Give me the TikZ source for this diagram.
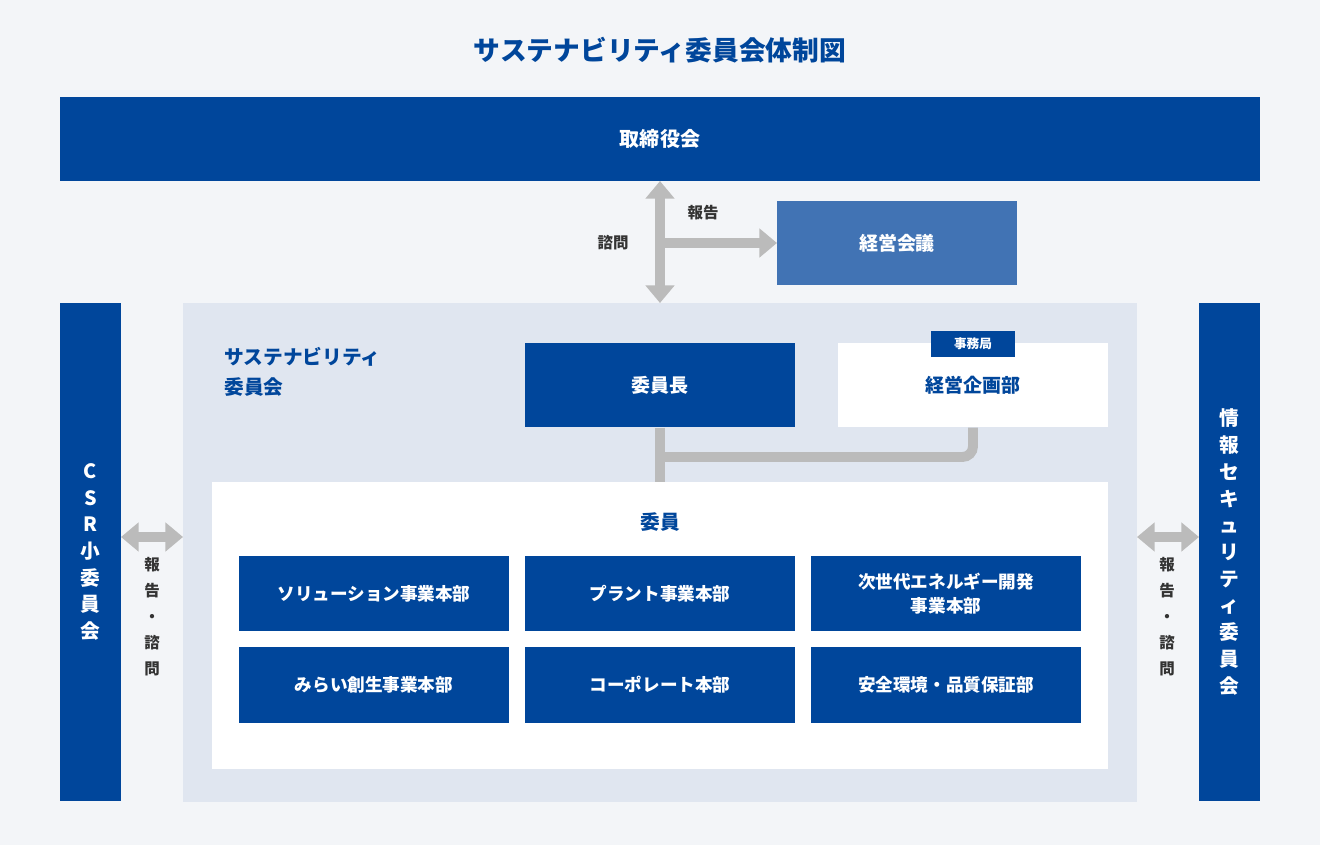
\documentclass[tikz,border=0pt]{standalone}
\usepackage{fontspec}
\setmainfont{Noto Sans CJK JP}
\usetikzlibrary{arrows.meta}
\definecolor{navy}{HTML}{00469B}
\definecolor{midblue}{HTML}{4173B4}
\definecolor{panel}{HTML}{E0E6F0}
\definecolor{bg}{HTML}{F3F5F8}
\definecolor{link}{HTML}{BBBBBB}
\definecolor{ink}{HTML}{333333}
\tikzset{
  bluebox/.style={fill=navy,text=white,font=\fontsize{5.4}{7}\selectfont\bfseries,inner sep=0pt,align=center},
  whitebox/.style={fill=white,text=navy,font=\fontsize{5.4}{7}\selectfont\bfseries,inner sep=0pt,align=center},
  lbl/.style={text=ink,font=\fontsize{4.4}{7.4}\selectfont\bfseries,align=center},
  gline/.style={draw=link,line width=2.8pt},
  garrow/.style={gline,{Triangle[length=5pt,width=8pt]}-{Triangle[length=5pt,width=8pt]}}
}
\begin{document}
\begin{tikzpicture}[x=0.01cm,y=-0.01cm]
\fill[bg] (0,0) rectangle (1320,845);
\node[text=navy,font=\fontsize{7.6}{9}\selectfont\bfseries] (title) at (660,50) {サステナビリティ委員会体制図};
% board
\fill[navy] (60,97) rectangle (1260,181);
\node[text=white,font=\fontsize{5.7}{7}\selectfont\bfseries] (board) at (660,139) {取締役会};
% management meeting
\fill[midblue] (777,201) rectangle (1017,285);
\node[text=white,font=\fontsize{5.4}{7}\selectfont\bfseries] (mgmt) at (897,243) {経営会議};
% committee panel
\fill[panel] (183,303) rectangle (1137,802);
\coordinate (bt) at (660,181);
\coordinate (pt) at (660,303);
\coordinate (mid) at (660,243);
\coordinate (ml) at (777,243);
\draw[garrow] (bt) -- (pt);
\draw[gline,-{Triangle[length=5pt,width=8pt]}] (mid) -- (ml);
\node[lbl] (ask) at (613,243) {諮問};
\node[lbl] (rep) at (703,213) {報告};
% side committees
\fill[navy] (60,303) rectangle (121,801);
\node[text=white,font=\fontsize{5.6}{7.6}\selectfont\bfseries,align=center] (csr) at (90.5,552) {C\\S\\R\\小\\委\\員\\会};
\fill[navy] (1199,303) rectangle (1260,801);
\node[text=white,font=\fontsize{5.6}{7.6}\selectfont\bfseries,align=center] (sec) at (1229.5,552) {情\\報\\セ\\キ\\ュ\\リ\\テ\\ィ\\委\\員\\会};
\coordinate (la) at (121,537);
\coordinate (lb) at (183,537);
\coordinate (ra) at (1137,537);
\coordinate (rb) at (1199,537);
\draw[garrow] (la) -- (lb);
\draw[garrow] (ra) -- (rb);
\node[lbl] (lrep) at (152,617) {報\\告\\・\\諮\\問};
\node[lbl] (rrep) at (1167,617) {報\\告\\・\\諮\\問};
% committee
\node[text=navy,font=\fontsize{5.6}{8.5}\selectfont\bfseries,align=left,anchor=west] (comm) at (212,372) {サステナビリティ\\委員会};
\node[bluebox,minimum width=270\pgflinewidth,minimum width=2.7cm,minimum height=0.84cm] (chair) at (660,385) {委員長};
\node[whitebox,minimum width=2.7cm,minimum height=0.84cm] (plan) at (973,385) {経営企画部};
\node[bluebox,minimum width=0.83cm,minimum height=0.26cm,font=\fontsize{3.6}{4}\selectfont\bfseries] (office) at (973,344) {事務局};
\fill[white] (212,482) rectangle (1108,769);
\coordinate (mt) at (660,482);
\coordinate (bend) at (973,457);
\draw[gline] (chair.south) -- (mt);
\draw[gline,rounded corners=3pt] (plan.south) -- (bend) -- (660,457);
\node[text=navy,font=\fontsize{5.6}{7}\selectfont\bfseries] (members) at (660,522) {委員};
% divisions
\foreach \name/\txt/\x/\y in {
  sol/ソリューション事業本部/374/593.5,
  plant/プラント事業本部/660/593.5,
  energy/{次世代エネルギー開発\\事業本部}/946/593.5,
  mirai/みらい創生事業本部/374/685,
  corp/コーポレート本部/660/685,
  safe/安全環境・品質保証部/946/685}
  \node[bluebox,minimum width=2.7cm,minimum height=0.75cm,font=\fontsize{5}{6.8}\selectfont\bfseries] (\name) at (\x,\y) {\txt};
\end{tikzpicture}
\end{document}
